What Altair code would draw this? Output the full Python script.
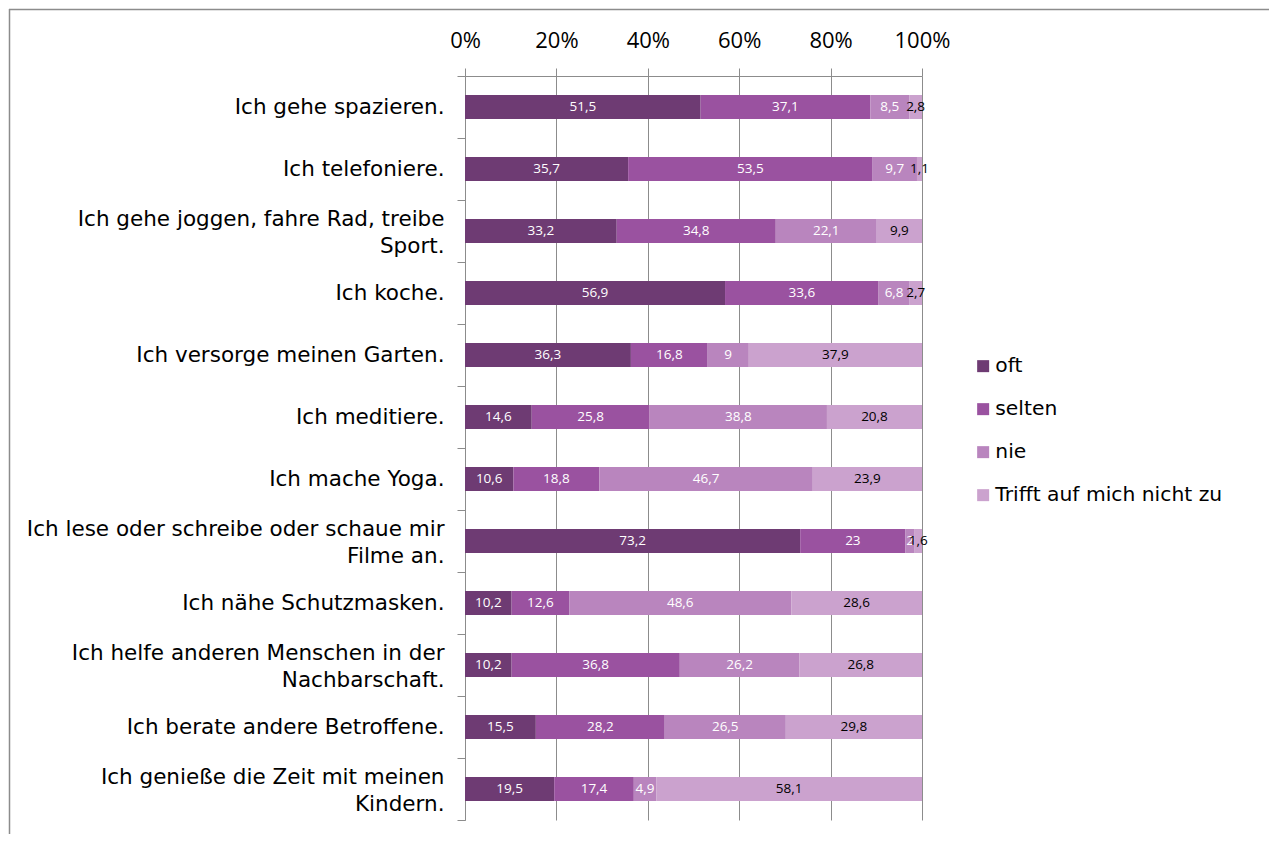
import altair as alt
import pandas as pd

categories = [
    "Ich gehe spazieren.",
    "Ich telefoniere.\u00a0",
    "Ich gehe joggen, fahre Rad, treibe|Sport.",
    "Ich koche.\u00a0",
    "Ich versorge meinen Garten.",
    "Ich meditiere.\u00a0",
    "Ich mache Yoga.",
    "Ich lese oder schreibe oder schaue mir|Filme an.",
    "Ich nähe Schutzmasken.",
    "Ich helfe anderen Menschen in der|Nachbarschaft.",
    "Ich berate andere Betroffene.",
    "Ich genieße die Zeit mit meinen|Kindern.",
]
oft = [51.5, 35.7, 33.2, 56.9, 36.3, 14.6, 10.6, 73.2, 10.2, 10.2, 15.5, 19.5]
selten = [37.1, 53.5, 34.8, 33.6, 16.8, 25.8, 18.8, 23, 12.6, 36.8, 28.2, 17.4]
nie = [8.5, 9.7, 22.1, 6.8, 9, 38.8, 46.7, 2, 48.6, 26.2, 26.5, 4.9]
trifft = [2.8, 1.1, 9.9, 2.7, 37.9, 20.8, 23.9, 1.6, 28.6, 26.8, 29.8, 58.1]

series_names = ["oft", "selten", "nie", "Trifft auf mich nicht zu"]
series_colors = ["#6E3B73", "#9A52A0", "#B985BE", "#CBA2CE"]
tick_values = [0, 0.2, 0.4, 0.6, 0.8, 1.0]

rows = []
for i, c in enumerate(categories):
    for j, (s, vals) in enumerate(zip(series_names, [oft, selten, nie, trifft])):
        rows.append({"cat": c, "series": s, "order": j, "value": vals[i]})
df = pd.DataFrame(rows)

GRID = "#8c8c8c"

base = (
    alt.Chart(df)
    .transform_stack(
        stack="value",
        groupby=["cat"],
        as_=["x0", "x1"],
        offset="normalize",
        sort=[alt.SortField("order", order="ascending")],
    )
    .transform_calculate(
        mid="(datum.x0 + datum.x1) / 2",
        lbl="replace(toString(datum.value), '.', ',')",
    )
)

y_enc = alt.Y(
    "cat:N",
    sort=categories,
    scale=alt.Scale(paddingInner=0, paddingOuter=0),
    axis=alt.Axis(
        title=None,
        labelExpr="split(datum.label, '|')",
        labelOffset={
            "condition": {"test": "indexof(datum.label, '|') >= 0", "value": -12},
            "value": 0,
        },
        tickBand="extent",
        tickSize=8,
        labelPadding=13,
        labelFont="DejaVu Sans",
        labelFontSize=21.5,
        labelColor="#000000",
        labelLineHeight=27,
        labelLimit=0,
        domainColor=GRID,
        tickColor=GRID,
        grid=False,
    ),
)

bars = base.mark_bar(size=24).encode(
    x=alt.X(
        "x0:Q",
        scale=alt.Scale(domain=[0, 1], nice=False),
        axis=alt.Axis(
            orient="top",
            title=None,
            format=".0%",
            values=tick_values,
            tickSize=8,
            labelPadding=16,
            labelFlush=False,
            labelFont="Open Sans",
            labelFontSize=22,
            labelColor="#000000",
            domainColor=GRID,
            tickColor=GRID,
            gridColor=GRID,
            gridOpacity=1,
            grid=True,
        ),
    ),
    x2="x1:Q",
    y=y_enc,
    color=alt.Color(
        "series:N",
        sort=series_names,
        scale=alt.Scale(domain=series_names, range=series_colors),
        legend=alt.Legend(
            orient="none",
            legendX=508,
            legendY=280,
            title=None,
            symbolType="square",
            symbolSize=144,
            symbolStrokeWidth=0,
            labelFont="DejaVu Sans",
            labelFontSize=20.3,
            labelColor="#000000",
            labelLimit=0,
            rowPadding=22,
            labelOffset=2,
            padding=0,
        ),
    ),
)

texts = base.mark_text(font="Open Sans", fontSize=13.5).encode(
    x="mid:Q",
    y=alt.Y("cat:N", sort=categories),
    text="lbl:N",
    fill=alt.condition(
        "datum.series == 'Trifft auf mich nicht zu'",
        alt.value("#000000"),
        alt.value("#ffffff"),
    ),
)

frame_df = pd.DataFrame({"z": [0]})
top_line = alt.Chart(frame_df).mark_rule(color=GRID, strokeWidth=1.5).encode(
    x=alt.value(-456), x2=alt.value(804), y=alt.value(-66.5)
)
left_line = alt.Chart(frame_df).mark_rule(color=GRID, strokeWidth=1.5).encode(
    x=alt.value(-455.5), y=alt.value(-67), y2=alt.value(758)
)

chart = (
    alt.layer(bars, texts, top_line, left_line)
    .properties(width=457, height=744, padding=0)
    .configure_view(stroke=None)
)

chart.save("out.html", embed_options={"renderer": "svg", "actions": False})
